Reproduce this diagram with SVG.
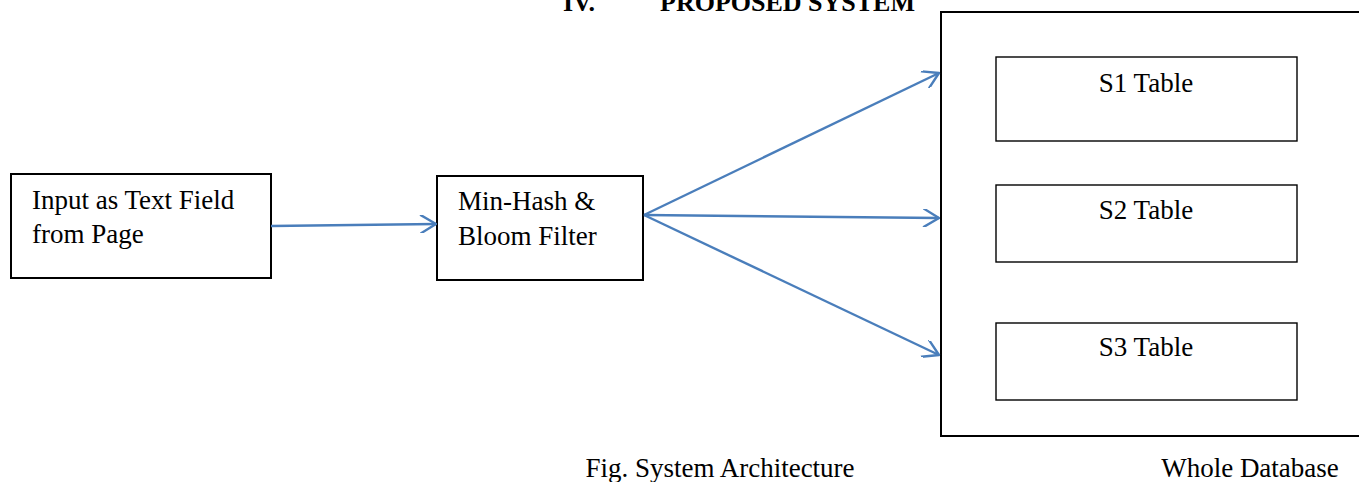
<svg xmlns="http://www.w3.org/2000/svg" width="1359" height="482" viewBox="0 0 1359 482">
  <defs>
    <style>
      .box { fill: #ffffff; stroke: #000000; stroke-width: 2; }
      .tbl { fill: #ffffff; stroke: #000000; stroke-width: 1.4; }
      .lbl { font-family: "Liberation Serif", "Times New Roman", serif; font-size: 27px; fill: #000000; }
      .head { font-family: "Liberation Serif", "Times New Roman", serif; font-size: 26px; font-weight: bold; fill: #000000; }
      .link { stroke: #4a7ebb; stroke-width: 2.4; fill: none; marker-end: url(#chevron); }
    </style>
    <marker id="chevron" markerWidth="18" markerHeight="18" refX="11" refY="6" orient="auto" markerUnits="userSpaceOnUse" viewBox="0 0 12 12">
      <path d="M1,0 L11,6 L1,12" fill="none" stroke="#4a7ebb" stroke-width="1.6" stroke-linecap="round" stroke-linejoin="round"/>
    </marker>
  </defs>

  <rect width="1359" height="482" fill="#ffffff"/>

  <!-- section heading, running off the top edge of the page -->
  <text class="head" x="563" y="11">IV.</text>
  <text class="head" x="660" y="11">PROPOSED SYSTEM</text>

  <g id="input-node">
    <rect class="box" x="11" y="174" width="260" height="104"/>
    <text class="lbl" x="32" y="209">Input as Text Field</text>
    <text class="lbl" x="32" y="243">from Page</text>
  </g>

  <g id="minhash-node">
    <rect class="box" x="437" y="176" width="206" height="104"/>
    <text class="lbl" x="458" y="210">Min-Hash &amp;</text>
    <text class="lbl" x="458" y="245">Bloom Filter</text>
  </g>

  <g id="database-node">
    <rect class="box" x="941" y="12" width="430" height="424"/>
    <text class="lbl" x="1250" y="477" text-anchor="middle">Whole Database</text>
  </g>

  <g id="s1-node">
    <rect class="tbl" x="996" y="57" width="301" height="84"/>
    <text class="lbl" x="1146" y="92" text-anchor="middle">S1 Table</text>
  </g>

  <g id="s2-node">
    <rect class="tbl" x="996" y="185" width="301" height="77"/>
    <text class="lbl" x="1146" y="219" text-anchor="middle">S2 Table</text>
  </g>

  <g id="s3-node">
    <rect class="tbl" x="996" y="323" width="301" height="77"/>
    <text class="lbl" x="1146" y="356" text-anchor="middle">S3 Table</text>
  </g>

  <g id="connectors">
    <line class="link" x1="271" y1="226" x2="436" y2="224"/>
    <line class="link" x1="644" y1="215" x2="939" y2="73"/>
    <line class="link" x1="644" y1="215" x2="939" y2="218"/>
    <line class="link" x1="644" y1="215" x2="939" y2="355"/>
  </g>

  <text class="lbl" x="720" y="477" text-anchor="middle">Fig. System Architecture</text>
</svg>
